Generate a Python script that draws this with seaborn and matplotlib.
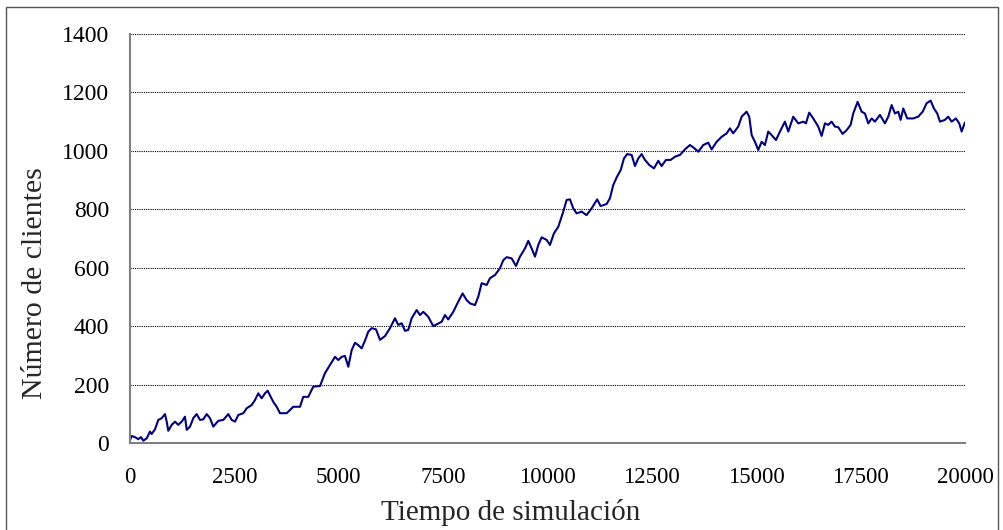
import matplotlib
matplotlib.use("Agg")
import matplotlib.pyplot as plt
import seaborn as sns
import pandas as pd
from matplotlib.patches import Rectangle

# Simulation time and number of customers in the system
tiempo = [
    0, 41, 120, 199, 263, 319, 400, 479, 520, 599, 678, 759, 838, 879, 917, 999,
    1078, 1157, 1238, 1317, 1358, 1437, 1516, 1597, 1677, 1756, 1837, 1916, 1995,
    2115, 2235, 2354, 2436, 2515, 2594, 2714, 2795, 2850, 2915, 2994, 3073, 3154,
    3233, 3298, 3370, 3432, 3513, 3593, 3753, 3911, 4072, 4150, 4270, 4390, 4551,
    4670, 4790, 4910, 4989, 5070, 5149, 5229, 5310, 5389, 5468, 5549, 5628, 5707,
    5789, 5892, 5988, 6107, 6227, 6347, 6426, 6507, 6586, 6665, 6747, 6866, 6946,
    7025, 7144, 7264, 7465, 7544, 7623, 7743, 7863, 7966, 8064, 8143, 8263, 8342,
    8423, 8543, 8622, 8742, 8861, 8941, 9022, 9141, 9245, 9341, 9460, 9540, 9620,
    9700, 9779, 9860, 9980, 10059, 10155, 10258, 10378, 10458, 10538, 10617, 10697,
    10816, 10936, 11056, 11190, 11271, 11415, 11496, 11575, 11656, 11752, 11831,
    11910, 12016, 12095, 12174, 12255, 12334, 12435, 12550, 12653, 12734, 12837,
    12950, 13053, 13173, 13292, 13412, 13491, 13611, 13731, 13850, 13931, 14051,
    14171, 14291, 14370, 14449, 14569, 14650, 14769, 14832, 14890, 14969, 15048,
    15129, 15208, 15287, 15368, 15472, 15568, 15687, 15767, 15886, 16006, 16126,
    16190, 16269, 16365, 16485, 16566, 16645, 16724, 16805, 16885, 16964, 17069,
    17165, 17261, 17323, 17428, 17524, 17603, 17683, 17764, 17843, 17963, 18082,
    18162, 18243, 18322, 18401, 18458, 18521, 18617, 18761, 18880, 18986, 19081,
    19177, 19256, 19335, 19400, 19519, 19598, 19680, 19783, 19862, 19920, 19956,
    20000,
]
clientes = [
    10, 24, 20, 13, 20, 8, 16, 39, 31, 47, 79, 85, 99, 73, 42, 62,
    73, 62, 73, 90, 45, 56, 85, 99, 79, 81, 99, 85, 56,
    76, 79, 99, 79, 73, 96, 102, 119, 124, 130, 147, 170, 153,
    170, 179, 158, 141, 124, 102, 102, 124, 124, 158, 158, 193, 195,
    239, 267, 295, 284, 295, 298, 261, 318, 343, 335, 324, 350, 381,
    393, 389, 353, 366, 393, 427, 404, 410, 384, 387, 427, 455, 438,
    449, 432, 400, 415, 438, 423, 449, 484, 512, 489, 478, 472, 501,
    547, 541, 564, 575, 598, 626, 636, 632, 606, 638, 666, 692, 666,
    638, 678, 704, 695, 678, 718, 740, 792, 832, 834, 803, 786,
    792, 780, 803, 834, 811, 818, 838, 883, 909, 934, 974,
    989, 986, 948, 974, 989, 969, 952, 940, 966, 948, 969,
    969, 980, 986, 1005, 1020, 1012, 997, 1020, 1028, 1005, 1031,
    1048, 1060, 1077, 1060, 1083, 1117, 1134, 1117, 1054, 1031, 1003,
    1031, 1020, 1066, 1054, 1037, 1066, 1100, 1066, 1117, 1094, 1100,
    1094, 1131, 1111, 1083, 1051, 1094, 1089, 1100, 1083, 1081, 1058,
    1071, 1089, 1128, 1168, 1134, 1128, 1094, 1111, 1100, 1123, 1094,
    1117, 1157, 1128, 1134, 1106, 1145, 1111, 1111, 1117, 1134, 1163,
    1172, 1145, 1128, 1100, 1106, 1117, 1100, 1111, 1094, 1066, 1081,
    1097,
]
x_ticks = [0, 2500, 5000, 7500, 10000, 12500, 15000, 17500, 20000]
y_ticks = [0, 200, 400, 600, 800, 1000, 1200, 1400]

df = pd.DataFrame({"Tiempo": tiempo, "Clientes": clientes})

sns.set_style("white")
plt.rcParams["font.family"] = ["Liberation Serif", "DejaVu Serif"]

fig = plt.figure(figsize=(10.04, 5.30), dpi=100)
ax = fig.add_axes([130 / 1004, 87 / 530, 835 / 1004, 409 / 530])

sns.lineplot(data=df, x="Tiempo", y="Clientes", ax=ax, color="#000080",
             linewidth=1.5, estimator=None, sort=False)

ax.set_xlim(0, 20000)
ax.set_ylim(0, 1400)
ax.set_xticks(x_ticks)
ax.set_yticks(y_ticks)
ax.set_xticklabels([str(v) for v in x_ticks], fontsize=16.5)
ax.set_yticklabels([str(v) for v in y_ticks], fontsize=17)
ax.set_xlabel("Tiempo de simulación", fontsize=21)
ax.set_ylabel("Número de clientes", fontsize=21.5)
ax.xaxis.set_label_coords(0.456, -0.137)
ax.yaxis.set_label_coords(-0.098, 0.391)

ax.yaxis.grid(True, linestyle=(0, (1, 1)), color="black", linewidth=0.8)
ax.xaxis.grid(False)
ax.set_axisbelow(True)

for side in ("top", "right"):
    ax.spines[side].set_visible(False)
for side in ("left", "bottom"):
    ax.spines[side].set_color("#808080")
    ax.spines[side].set_linewidth(1.5)
ax.tick_params(axis="both", direction="out", length=6, width=1.2,
               color="#808080", labelcolor="black")
ax.tick_params(axis="x", pad=11)
ax.tick_params(axis="y", pad=9)

# Outer frame around the whole figure
fig.patches.append(Rectangle((6 / 1004, -0.01), 992 / 1004, 523 / 530 + 0.01,
                             transform=fig.transFigure, fill=False,
                             edgecolor="#555555", linewidth=1.0))

fig.savefig("out.png", dpi=100)
